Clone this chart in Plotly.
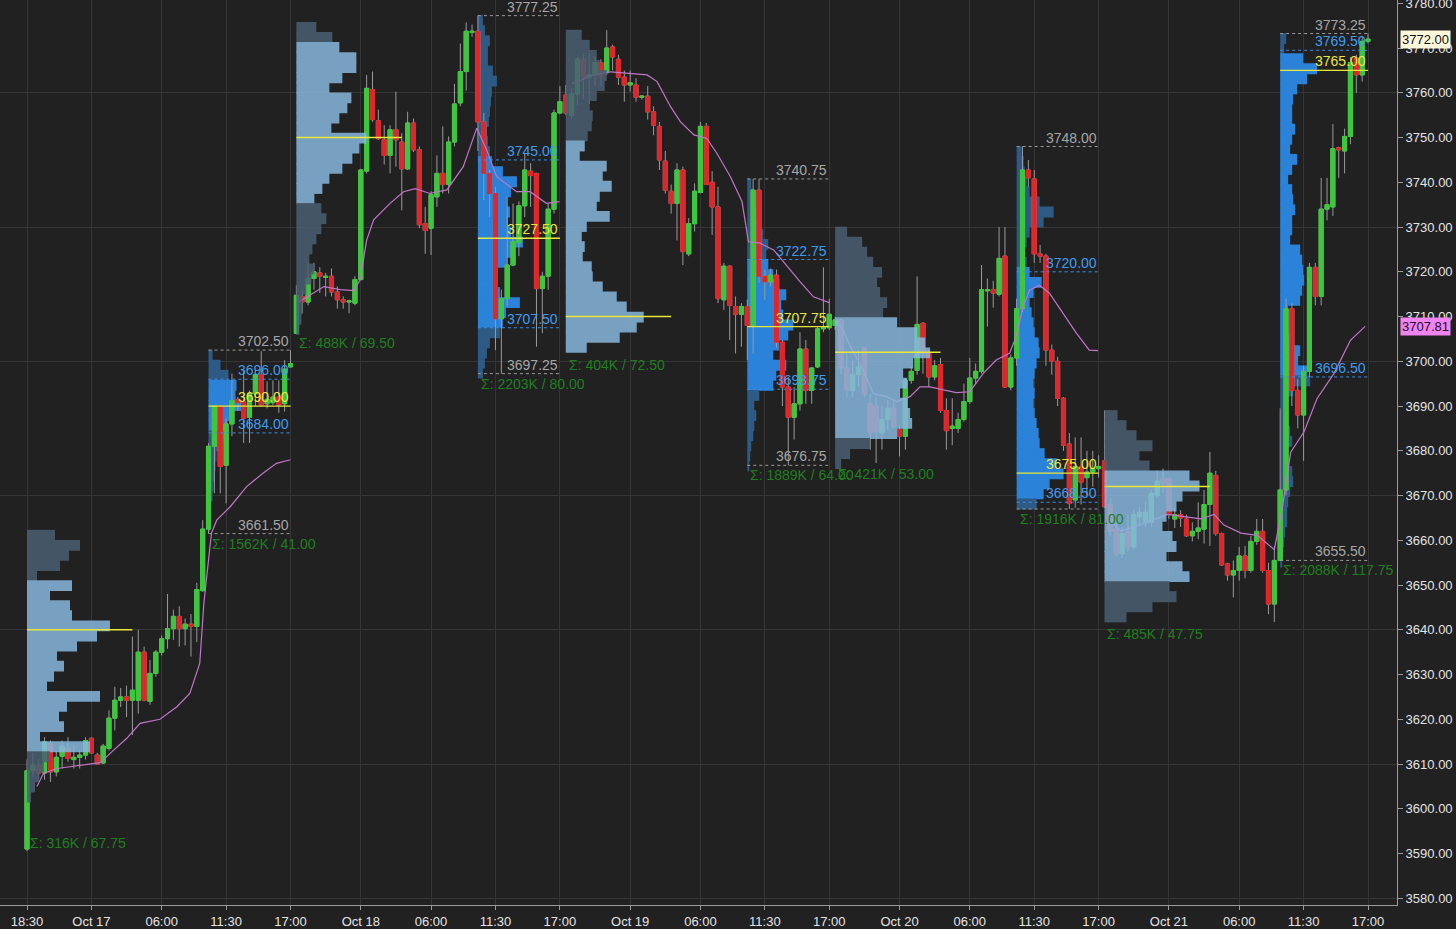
import plotly.graph_objects as go

# ---------------- axis labels ----------------
tick_pos = [0, 11, 23, 34, 45, 57, 69, 80, 91, 103, 115, 126, 137, 149, 161, 172, 183, 195, 207, 218, 229]
tick_text = ["18:30", "Oct 17", "06:00", "11:30", "17:00", "Oct 18", "06:00", "11:30", "17:00",
             "Oct 19", "06:00", "11:30", "17:00", "Oct 20", "06:00", "11:30", "17:00",
             "Oct 21", "06:00", "11:30", "17:00"]

# ---------------- 30-minute candles (5 sessions x 46) ----------------
opens = [
    3591.0, 3608.5, 3609.75, 3608.0, 3614.5, 3608.25, 3611.75, 3613.5, 3611.0, 3611.5, 3612.0, 3615.75, 3612.0, 3610.25, 3613.5, 3620.25, 3624.25, 3625.0, 3624.25, 3624.25, 3635.0, 3624.0, 3630.25, 3635.0, 3638.0, 3640.25, 3643.0, 3640.25, 3641.25, 3640.75, 3648.75, 3662.5, 3681.0, 3690.0, 3676.75, 3686.0, 3691.5, 3691.0, 3687.5, 3692.75, 3697.0, 3690.5, 3690.75, 3692.0, 3690.5, 3698.75,
    3706.25, 3714.5, 3713.25, 3718.5, 3719.75, 3718.75, 3719.0, 3715.5, 3713.75, 3713.25, 3713.0, 3718.25, 3742.5, 3760.75, 3753.75, 3749.5, 3746.0, 3751.75, 3749.0, 3743.0, 3753.25, 3747.25, 3730.75, 3729.75, 3736.75, 3742.0, 3739.5, 3749.0, 3757.75, 3764.75, 3773.5, 3773.75, 3753.5, 3742.0, 3737.5, 3709.5, 3714.0, 3721.5, 3726.5, 3734.75, 3742.5, 3742.0, 3716.25, 3719.0, 3734.0, 3755.5,
    3759.5, 3755.0, 3759.75, 3767.5, 3763.5, 3764.0, 3766.75, 3764.5, 3770.25, 3767.5, 3763.5, 3761.75, 3761.75, 3759.0, 3759.25, 3755.75, 3752.5, 3744.75, 3738.0, 3735.25, 3742.75, 3724.0, 3730.75, 3737.75, 3752.5, 3740.0, 3734.5, 3713.75, 3721.25, 3712.25, 3710.5, 3712.25, 3708.0, 3738.25, 3719.0, 3717.75, 3719.25, 3704.25, 3694.25, 3687.5, 3690.5, 3702.75, 3693.5, 3698.75, 3707.25, 3707.5,
    3708.0, 3709.25, 3698.5, 3693.5, 3697.0, 3703.0, 3690.5, 3690.0, 3684.0, 3687.0, 3689.5, 3684.75, 3683.25, 3695.75, 3698.0, 3708.5, 3701.75, 3696.5, 3699.25, 3689.0, 3685.0, 3685.0, 3687.0, 3691.0, 3696.25, 3697.75, 3715.75, 3716.0, 3715.0, 3723.5, 3694.25, 3700.75, 3711.75, 3742.75, 3740.75, 3724.0, 3723.5, 3702.5, 3700.0, 3691.75, 3681.5, 3669.0, 3676.5, 3674.0, 3675.25, 3676.0,
    3677.75, 3668.0, 3662.5, 3657.0, 3662.0, 3658.5, 3665.25, 3664.0, 3664.0, 3670.0, 3673.75, 3673.75, 3664.75, 3665.75, 3664.75, 3661.0, 3662.0, 3662.5, 3668.0, 3674.5, 3661.5, 3654.75, 3652.25, 3653.25, 3656.5, 3653.25, 3659.75, 3662.0, 3653.25, 3645.75, 3655.5, 3671.25, 3711.75, 3693.5, 3688.0, 3697.75, 3721.0, 3714.5, 3734.0, 3734.5, 3747.75, 3747.0, 3750.25, 3767.75, 3764.0, 3771.5,
]
highs = [
    3611.0, 3612.5, 3611.0, 3616.0, 3615.25, 3613.0, 3615.25, 3616.0, 3614.0, 3613.0, 3616.0, 3616.0, 3612.5, 3614.5, 3622.0, 3627.25, 3627.0, 3627.5, 3638.5, 3640.0, 3636.25, 3633.25, 3635.5, 3638.75, 3648.0, 3644.5, 3645.25, 3642.5, 3643.5, 3650.5, 3664.5, 3681.75, 3690.25, 3690.25, 3687.25, 3697.25, 3692.0, 3698.0, 3693.5, 3698.0, 3702.25, 3695.5, 3695.75, 3695.75, 3700.25, 3702.5,
    3717.0, 3716.0, 3722.25, 3722.0, 3721.0, 3719.75, 3720.75, 3716.75, 3714.5, 3713.75, 3719.0, 3743.0, 3764.0, 3764.75, 3756.25, 3752.75, 3752.75, 3760.25, 3751.0, 3755.75, 3754.25, 3748.0, 3734.5, 3738.0, 3746.0, 3752.5, 3750.25, 3762.0, 3771.0, 3775.75, 3775.25, 3777.25, 3755.5, 3742.75, 3739.0, 3716.0, 3736.75, 3735.25, 3735.75, 3746.5, 3744.25, 3742.0, 3720.0, 3735.25, 3756.25, 3761.5,
    3761.75, 3761.0, 3768.0, 3768.75, 3768.75, 3768.0, 3767.5, 3774.0, 3770.75, 3768.5, 3765.0, 3765.0, 3763.25, 3759.5, 3761.5, 3757.0, 3753.5, 3747.0, 3739.5, 3744.25, 3743.5, 3732.0, 3739.75, 3753.5, 3753.25, 3742.5, 3739.0, 3722.0, 3721.5, 3714.5, 3713.0, 3713.75, 3740.75, 3740.75, 3720.5, 3720.75, 3720.5, 3704.75, 3696.5, 3694.25, 3706.5, 3704.75, 3698.75, 3707.75, 3721.0, 3714.0,
    3710.0, 3709.5, 3701.75, 3700.25, 3702.5, 3703.25, 3692.75, 3692.0, 3690.0, 3691.25, 3691.0, 3685.75, 3696.25, 3698.75, 3719.0, 3708.75, 3702.5, 3700.25, 3700.75, 3691.75, 3691.75, 3688.5, 3695.0, 3700.75, 3699.5, 3721.5, 3718.5, 3718.0, 3730.0, 3730.0, 3701.5, 3714.0, 3748.0, 3745.0, 3742.75, 3726.0, 3724.0, 3703.75, 3701.0, 3692.0, 3684.0, 3683.0, 3683.0, 3680.0, 3680.0, 3679.0,
    3689.0, 3669.5, 3664.0, 3663.0, 3665.75, 3666.75, 3667.5, 3668.5, 3671.25, 3675.5, 3676.0, 3674.0, 3667.25, 3666.75, 3665.75, 3664.0, 3668.5, 3671.25, 3679.75, 3675.5, 3661.75, 3655.0, 3655.5, 3658.5, 3658.75, 3661.0, 3664.75, 3664.75, 3655.0, 3658.75, 3689.5, 3714.0, 3713.0, 3696.0, 3699.0, 3722.0, 3722.0, 3741.0, 3741.0, 3753.0, 3748.0, 3752.0, 3768.0, 3768.5, 3772.5, 3773.25,
]
lows = [
    3590.5, 3607.25, 3606.75, 3606.5, 3606.0, 3607.25, 3609.0, 3610.5, 3609.0, 3609.0, 3611.0, 3612.25, 3610.0, 3610.0, 3613.0, 3617.5, 3622.75, 3620.5, 3616.5, 3621.25, 3624.0, 3623.25, 3629.5, 3634.25, 3635.75, 3637.75, 3636.25, 3636.5, 3634.0, 3637.25, 3648.5, 3661.5, 3670.5, 3670.5, 3668.25, 3683.25, 3689.0, 3681.75, 3681.75, 3690.0, 3690.0, 3689.5, 3690.25, 3688.5, 3688.75, 3698.75,
    3706.25, 3710.75, 3712.5, 3716.0, 3715.25, 3714.5, 3714.5, 3711.75, 3711.75, 3710.75, 3712.5, 3718.25, 3742.0, 3753.5, 3749.5, 3744.0, 3742.0, 3743.5, 3733.75, 3742.75, 3746.75, 3729.75, 3724.0, 3723.75, 3734.5, 3737.5, 3737.5, 3748.0, 3757.0, 3760.5, 3772.5, 3747.0, 3736.0, 3732.25, 3702.5, 3697.25, 3712.25, 3721.25, 3723.5, 3732.25, 3734.5, 3703.25, 3706.25, 3716.0, 3733.0, 3755.25,
    3755.0, 3754.25, 3757.25, 3758.5, 3757.5, 3761.5, 3761.5, 3764.0, 3765.0, 3761.75, 3758.0, 3760.25, 3758.0, 3758.5, 3754.0, 3750.5, 3742.75, 3737.5, 3733.0, 3727.0, 3721.5, 3723.5, 3729.0, 3737.5, 3739.5, 3728.25, 3713.0, 3711.5, 3704.75, 3701.75, 3703.25, 3700.25, 3701.75, 3717.5, 3713.75, 3716.75, 3703.0, 3690.0, 3676.75, 3682.5, 3689.0, 3690.5, 3690.5, 3698.5, 3706.5, 3707.0,
    3707.0, 3697.25, 3692.0, 3692.0, 3694.25, 3692.0, 3680.25, 3677.25, 3680.25, 3684.5, 3685.0, 3678.75, 3680.25, 3695.0, 3697.0, 3697.25, 3694.25, 3695.75, 3688.5, 3680.25, 3681.25, 3684.0, 3686.5, 3690.5, 3695.0, 3697.25, 3707.75, 3712.0, 3714.5, 3694.0, 3693.5, 3699.0, 3711.0, 3739.0, 3722.0, 3722.0, 3699.0, 3697.0, 3690.0, 3680.0, 3667.0, 3667.25, 3668.0, 3670.0, 3672.0, 3674.0,
    3667.25, 3661.0, 3656.5, 3656.0, 3657.5, 3658.0, 3663.5, 3663.0, 3663.0, 3669.5, 3670.5, 3664.75, 3662.75, 3663.0, 3660.75, 3659.75, 3660.25, 3659.25, 3658.75, 3661.0, 3654.25, 3651.0, 3647.25, 3651.0, 3651.5, 3652.75, 3659.0, 3652.75, 3643.5, 3641.75, 3655.5, 3670.0, 3690.0, 3685.0, 3677.75, 3696.5, 3712.5, 3712.5, 3731.5, 3732.5, 3741.0, 3742.0, 3748.5, 3760.0, 3762.5, 3771.0,
]
closes = [
    3608.5, 3609.75, 3608.0, 3615.0, 3608.25, 3611.5, 3614.0, 3611.25, 3611.5, 3612.0, 3615.25, 3612.5, 3610.0, 3614.0, 3620.25, 3624.25, 3625.0, 3624.25, 3626.5, 3635.0, 3624.25, 3630.25, 3635.0, 3638.0, 3640.25, 3643.0, 3640.25, 3641.25, 3640.75, 3649.0, 3662.5, 3681.0, 3690.0, 3676.5, 3686.0, 3691.25, 3690.75, 3687.25, 3692.75, 3697.0, 3690.25, 3691.5, 3692.0, 3690.25, 3698.25, 3699.5,
    3714.75, 3713.25, 3718.5, 3720.0, 3719.0, 3719.0, 3715.5, 3713.75, 3713.25, 3713.5, 3718.25, 3742.75, 3761.0, 3754.0, 3749.75, 3746.0, 3751.75, 3749.5, 3743.0, 3753.25, 3747.25, 3730.5, 3729.25, 3737.25, 3742.0, 3739.5, 3749.0, 3757.5, 3764.75, 3773.75, 3773.75, 3753.5, 3742.0, 3737.5, 3709.5, 3714.0, 3721.5, 3726.75, 3734.75, 3742.75, 3741.5, 3716.25, 3719.0, 3734.0, 3755.5, 3758.0,
    3755.5, 3759.75, 3767.5, 3763.5, 3764.0, 3766.75, 3763.75, 3770.0, 3768.0, 3763.5, 3761.75, 3762.25, 3759.0, 3759.25, 3755.75, 3752.75, 3745.0, 3738.25, 3735.25, 3742.75, 3724.5, 3730.75, 3738.0, 3752.5, 3739.5, 3734.5, 3714.0, 3721.25, 3712.5, 3710.5, 3712.25, 3708.0, 3738.25, 3719.0, 3717.75, 3719.25, 3704.25, 3694.25, 3687.5, 3690.5, 3702.75, 3693.5, 3698.5, 3707.25, 3707.75, 3710.5,
    3709.25, 3698.5, 3693.5, 3697.0, 3698.75, 3692.75, 3684.0, 3684.25, 3687.0, 3689.5, 3685.5, 3683.25, 3695.75, 3697.75, 3708.25, 3701.75, 3696.5, 3699.0, 3689.0, 3684.5, 3685.5, 3687.0, 3691.0, 3696.25, 3697.75, 3716.0, 3716.0, 3715.25, 3723.0, 3694.25, 3700.75, 3711.75, 3742.75, 3741.0, 3724.0, 3723.5, 3702.5, 3700.0, 3691.75, 3681.25, 3668.25, 3676.5, 3673.0, 3675.25, 3676.0, 3676.5,
    3667.5, 3662.0, 3657.0, 3661.5, 3658.5, 3665.75, 3666.25, 3666.25, 3670.5, 3673.25, 3672.75, 3665.75, 3665.75, 3665.0, 3661.0, 3662.0, 3662.75, 3668.0, 3675.0, 3661.5, 3654.5, 3652.25, 3653.25, 3656.5, 3653.25, 3659.75, 3662.0, 3653.25, 3645.75, 3655.5, 3671.25, 3711.75, 3693.5, 3688.0, 3697.75, 3721.0, 3714.5, 3734.0, 3735.0, 3747.5, 3747.25, 3750.25, 3766.75, 3764.0, 3771.5, 3772.0,
]

# ---------------- session VWAP ----------------
vwap1_x = [1.7, 2.8, 5.1, 8.0, 10.8, 12.5, 14.8, 17.0, 19.3, 22.7, 25.6, 27.8, 29.5, 30.2, 31.0, 31.5, 32.4, 34.7, 37.5, 40.3, 42.6, 45.0]
vwap1_y = [3605.0, 3607.9, 3609.0, 3609.5, 3609.9, 3610.3, 3613.1, 3615.7, 3619.1, 3620.0, 3622.8, 3625.8, 3632.5, 3645.9, 3655.6, 3661.6, 3664.5, 3667.5, 3672.0, 3675.0, 3677.2, 3678.0]
vwap2_x = [46.1, 48.4, 50.7, 53.5, 55.8, 56.9, 58.0, 59.2, 62.0, 64.3, 66.3, 68.8, 71.7, 74.5, 76.8, 78.5, 80.2, 83.6, 85.9, 88.7, 90.9]
vwap2_y = [3713.0, 3714.8, 3716.7, 3716.0, 3715.8, 3718.2, 3727.1, 3731.6, 3735.3, 3737.9, 3738.6, 3737.5, 3738.3, 3743.5, 3752.1, 3747.2, 3741.3, 3737.9, 3737.9, 3735.3, 3735.7]
vwap3_x = [93.0, 94.8, 96.8, 99.7, 102.5, 105.9, 107.6, 109.9, 111.6, 113.9, 116.1, 117.8, 120.1, 122.1, 123.2, 125.2, 127.5, 129.8, 132.0, 134.3, 137.0]
vwap3_y = [3762.0, 3762.9, 3764.0, 3764.7, 3764.4, 3764.0, 3762.5, 3756.9, 3753.5, 3750.6, 3749.8, 3746.5, 3741.3, 3735.7, 3726.7, 3726.4, 3724.9, 3721.2, 3717.8, 3714.4, 3713.1]
vwap4_x = [138.0, 139.1, 140.6, 142.8, 144.5, 146.8, 148.5, 150.8, 152.5, 154.2, 156.5, 158.7, 161.0, 163.3, 165.5, 167.8, 168.9, 170.1, 171.2, 172.9, 174.6, 176.9, 179.2, 181.4, 182.9]
vwap4_y = [3709.2, 3707.7, 3703.3, 3698.1, 3692.8, 3692.1, 3691.0, 3692.1, 3694.3, 3694.3, 3693.6, 3693.0, 3693.2, 3697.3, 3700.3, 3701.8, 3705.5, 3712.2, 3715.9, 3717.0, 3715.2, 3710.7, 3706.3, 3702.5, 3702.4]
vwap5_x = [184.6, 186.8, 189.1, 192.0, 194.8, 197.6, 200.5, 202.7, 204.4, 207.3, 210.1, 213.0, 214.4, 215.8, 218.1, 220.3, 223.2, 226.0, 228.5]
vwap5_y = [3664.8, 3662.1, 3663.0, 3664.4, 3665.8, 3665.3, 3664.8, 3665.8, 3663.4, 3661.6, 3661.1, 3657.9, 3667.6, 3679.7, 3684.3, 3691.7, 3697.3, 3704.7, 3707.81]
last_price = 3772.00
last_vwap = 3707.81

# ---------------- volume profiles (2.25-pt rows, relative volume, top -> bottom) ----------------
ROW = 2.25
night_start = [0, 46, 92, 138, 184]
night_high = [3662.25, 3775.75, 3774.0, 3730.0, 3689.0]
night_range = [67.75, 69.50, 72.50, 53.00, 47.75]
night_vol = ["316K", "488K", "404K", "421K", "485K"]
night_vah = [3650.5, 3771.75, 3749.0, 3709.5, 3675.0]
night_val = [3612.75, 3736.0, 3701.5, 3682.75, 3650.5]
night_poc = [3640.0, 3750.0, 3710.0, 3702.0, 3672.0]
night1_vp = [28, 53, 42, 33, 10, 45, 23, 43, 45, 83, 70, 50, 30, 37, 27, 20, 73, 40, 32, 37, 13, 63, 23, 17, 12, 8, 4]
night2_vp = [20, 36, 43, 60, 60, 46, 33, 55, 51, 43, 35, 70, 63, 56, 46, 33, 26, 18, 25, 30, 25, 20, 16, 13, 18, 15, 10, 6, 6, 5, 3]
night3_vp = [16, 24, 31, 34, 41, 39, 31, 24, 27, 26, 22, 19, 14, 41, 37, 46, 34, 31, 44, 21, 16, 19, 17, 26, 27, 37, 51, 61, 78, 71, 54, 21]
night4_vp = [12, 27, 32, 38, 47, 42, 45, 52, 48, 62, 82, 90, 95, 78, 68, 72, 65, 72, 75, 77, 62, 35, 15, 6]
night5_vp = [13, 22, 32, 48, 35, 45, 85, 95, 78, 72, 62, 58, 68, 72, 62, 78, 85, 65, 72, 48, 22]
night_vps = [night1_vp, night2_vp, night3_vp, night4_vp, night5_vp]

day_start = [31, 77, 123, 169, 214]
day_end = [45, 91, 137, 183, 229]
day_high = [3702.50, 3777.25, 3740.75, 3748.00, 3773.25]
day_low = [3661.50, 3697.25, 3676.75, 3667.00, 3655.50]
day_vah = [3696.00, 3745.00, 3722.75, 3720.00, 3769.50]
day_val = [3684.00, 3707.50, 3693.75, 3668.50, 3696.50]
day_poc = [3690.00, 3727.50, 3707.75, 3675.00, 3765.00]
day_vol = ["1562K", "2203K", "1889K", "1916K", "2088K"]
day1_vp = [4, 12, 20, 28, 27, 33, 24, 19, 15, 10, 8, 7, 6, 5, 4, 2, 1, 1]
day2_vp = [5, 7, 12, 10, 10, 15, 19, 14, 13, 12, 11, 9, 10, 12, 14, 25, 39, 33, 29, 32, 30, 33, 45, 35, 29, 17, 20, 22, 42, 28, 25, 22, 12, 9, 7, 5]
day3_vp = [4, 6, 7, 9, 11, 16, 21, 19, 21, 26, 32, 39, 34, 36, 46, 41, 32, 26, 39, 29, 26, 12, 7, 9, 7, 6, 4, 3, 2]
day4_vp = [5, 7, 8, 10, 13, 23, 37, 27, 13, 10, 8, 10, 13, 25, 17, 13, 15, 17, 18, 22, 23, 20, 18, 17, 18, 17, 18, 20, 22, 23, 28, 40, 47, 33, 27, 20]
day5_vp = [6, 4, 23, 37, 27, 17, 13, 12, 12, 15, 12, 10, 17, 12, 8, 12, 13, 15, 12, 12, 10, 20, 22, 23, 24, 22, 20, 8, 7, 8, 12, 20, 18, 27, 30, 13, 8, 7, 8, 10, 12, 7, 8, 12, 13, 10, 8, 7, 7, 5, 4, 3, 2]
day_vps = [day1_vp, day2_vp, day3_vp, day4_vp, day5_vp]

# ---------------- styling ----------------
BG = "#212121"
GRID = "#353535"
AXIS = "#9a9a9a"
TXT = "#e4e4e4"
FONT = "Liberation Sans, Arial, sans-serif"
GREEN = "#3cc83c"
RED = "#e0262b"
WICK = "#9a9a9a"
NIGHT_VA, NIGHT_OUT = "#88b8de", "#4b5f73"
DAY_VA, DAY_OUT = "#2b82d9", "#2e5a86"
POC_C = "#e8e83a"
GRAY_LBL, BLUE_LBL, GREEN_LBL = "#a6a6a6", "#3d9cf0", "#1f7f1f"
VWAP_C = "#c274c8"
PX_PER_SLOT = 5.856
NIGHT_POC_LEN = 18

idx = list(range(len(opens)))
fig = go.Figure()


def profile_rows(top, vp, val, vah, va_col, out_col):
    centers = [top - ROW * (k + 0.5) for k in range(len(vp))]
    cols = [va_col if val <= c <= vah else out_col for c in centers]
    widths = [v / PX_PER_SLOT for v in vp]
    return centers, widths, cols


# day profiles: under the candles
for d in range(5):
    cy, wx, cols = profile_rows(day_high[d], day_vps[d], day_val[d], day_vah[d], DAY_VA, DAY_OUT)
    fig.add_trace(go.Bar(orientation="h", y=cy, x=wx, base=day_start[d], width=ROW * 1.08,
                         marker=dict(color=cols, line=dict(width=0)),
                         xaxis="x", yaxis="y", hoverinfo="skip", showlegend=False))

# candles: wicks then bodies
fig.add_trace(go.Candlestick(x=idx, open=opens, high=highs, low=lows, close=closes,
                             increasing=dict(line=dict(color=WICK, width=1), fillcolor=WICK),
                             decreasing=dict(line=dict(color=WICK, width=1), fillcolor=WICK),
                             whiskerwidth=0, hoverinfo="skip", showlegend=False, xaxis="x", yaxis="y"))
body_hi = [max(o, c) for o, c in zip(opens, closes)]
body_lo = [min(o, c) for o, c in zip(opens, closes)]
fig.add_trace(go.Candlestick(x=idx, open=opens, high=body_hi, low=body_lo, close=closes,
                             increasing=dict(line=dict(color=GREEN, width=1), fillcolor=GREEN),
                             decreasing=dict(line=dict(color=RED, width=1), fillcolor=RED),
                             whiskerwidth=0, hoverinfo="skip", showlegend=False, xaxis="x", yaxis="y"))

# vwap
for vx, vy in [(vwap1_x, vwap1_y), (vwap2_x, vwap2_y), (vwap3_x, vwap3_y), (vwap4_x, vwap4_y), (vwap5_x, vwap5_y)]:
    fig.add_trace(go.Scatter(x=vx, y=vy, mode="lines", line=dict(color=VWAP_C, width=1.2),
                             hoverinfo="skip", showlegend=False, xaxis="x", yaxis="y"))

# day POC lines
for d in range(5):
    fig.add_trace(go.Scatter(x=[day_start[d], day_end[d]], y=[day_poc[d]] * 2, mode="lines",
                             line=dict(color=POC_C, width=1.3), hoverinfo="skip", showlegend=False,
                             xaxis="x", yaxis="y"))

# night profiles: drawn on top (overlay axis)
for n in range(5):
    cy, wx, cols = profile_rows(night_high[n], night_vps[n], night_val[n], night_vah[n], NIGHT_VA, NIGHT_OUT)
    fig.add_trace(go.Bar(orientation="h", y=cy, x=wx, base=night_start[n], width=ROW * 1.08,
                         marker=dict(color=cols, line=dict(width=0)), opacity=0.85,
                         xaxis="x", yaxis="y2", hoverinfo="skip", showlegend=False))
    fig.add_trace(go.Scatter(x=[night_start[n], night_start[n] + NIGHT_POC_LEN], y=[night_poc[n]] * 2,
                             mode="lines", line=dict(color=POC_C, width=1.5), hoverinfo="skip",
                             showlegend=False, xaxis="x", yaxis="y2"))
    lo = night_high[n] - night_range[n]
    fig.add_annotation(x=night_start[n], y=lo, xref="x", yref="y2", text=f"Σ: {night_vol[n]} / {night_range[n]:.2f}",
                       showarrow=False, xanchor="left", yanchor="top", xshift=1,
                       font=dict(color=GREEN_LBL, size=14, family=FONT))

# day boxes, lines and labels
for d in range(5):
    xs = [day_start[d], day_end[d]]
    for val, col in [(day_high[d], AXIS), (day_low[d], AXIS), (day_vah[d], "#3a8ee6"), (day_val[d], "#3a8ee6")]:
        fig.add_trace(go.Scatter(x=xs, y=[val, val], mode="lines", line=dict(color=col, width=1, dash="dot"),
                                 hoverinfo="skip", showlegend=False, xaxis="x", yaxis="y2"))
    labels = [(day_high[d], GRAY_LBL), (day_vah[d], BLUE_LBL), (day_val[d], BLUE_LBL), (day_poc[d], POC_C)]
    if day_val[d] - day_low[d] > 2:  # low label is hidden under the VAL label when they nearly coincide
        labels.insert(1, (day_low[d], GRAY_LBL))
    for val, col in labels:
        fig.add_annotation(x=day_end[d], y=val, xref="x", yref="y2", text=f"{val:.2f}", showarrow=False,
                           xanchor="right", yanchor="bottom", yshift=-1,
                           font=dict(color=col, size=14, family=FONT))
    fig.add_annotation(x=day_start[d], y=day_low[d], xref="x", yref="y2",
                       text=f"Σ: {day_vol[d]} / {day_high[d] - day_low[d]:.2f}", showarrow=False,
                       xanchor="left", yanchor="top", xshift=1,
                       font=dict(color=GREEN_LBL, size=14, family=FONT))

# price tags on the axis
fig.add_annotation(x=1, xref="paper", y=last_price, yref="y2", text=f"{last_price:.2f}", showarrow=False,
                   xanchor="left", xshift=3, bgcolor="#fff8dc", borderpad=1,
                   font=dict(color="#111111", size=13, family=FONT))
fig.add_annotation(x=1, xref="paper", y=last_vwap, yref="y2", text=f"{last_vwap:.2f}", showarrow=False,
                   xanchor="left", xshift=3, bgcolor="#ef84ef", borderpad=1,
                   font=dict(color="#2a0a2a", size=13, family=FONT))

YR = [3578.5, 3780.74]
XR = [-4.61, 233.95]
fig.update_layout(
    width=1456, height=929,
    margin=dict(l=0, r=59, t=0, b=24, autoexpand=False),
    paper_bgcolor=BG, plot_bgcolor=BG,
    barmode="overlay", boxgap=0.3, boxgroupgap=0,
    showlegend=False,
    font=dict(family=FONT, color=TXT),
    xaxis=dict(range=XR, tickmode="array", tickvals=tick_pos, ticktext=tick_text,
               showgrid=True, gridcolor=GRID, gridwidth=1, zeroline=False, automargin=False,
               ticks="outside", ticklen=4, tickcolor=AXIS, showline=True, linecolor=AXIS,
               tickfont=dict(size=13, color=TXT, family=FONT), rangeslider=dict(visible=False)),
    yaxis=dict(range=YR, tick0=3580, dtick=30, showgrid=True, gridcolor=GRID, gridwidth=1,
               showticklabels=False, ticks="", zeroline=False, side="right", automargin=False),
    yaxis2=dict(range=YR, overlaying="y", side="right", tick0=3580, dtick=10, tickformat=".2f",
                ticks="outside", ticklen=5, tickcolor=AXIS, showline=True, linecolor=AXIS,
                showgrid=False, zeroline=False, ticklabeloverflow="allow", automargin=False,
                tickfont=dict(size=13, color=TXT, family=FONT)),
)

fig.write_html("out.html", config={"displayModeBar": False},
               post_script="document.body.style.margin='0';")
